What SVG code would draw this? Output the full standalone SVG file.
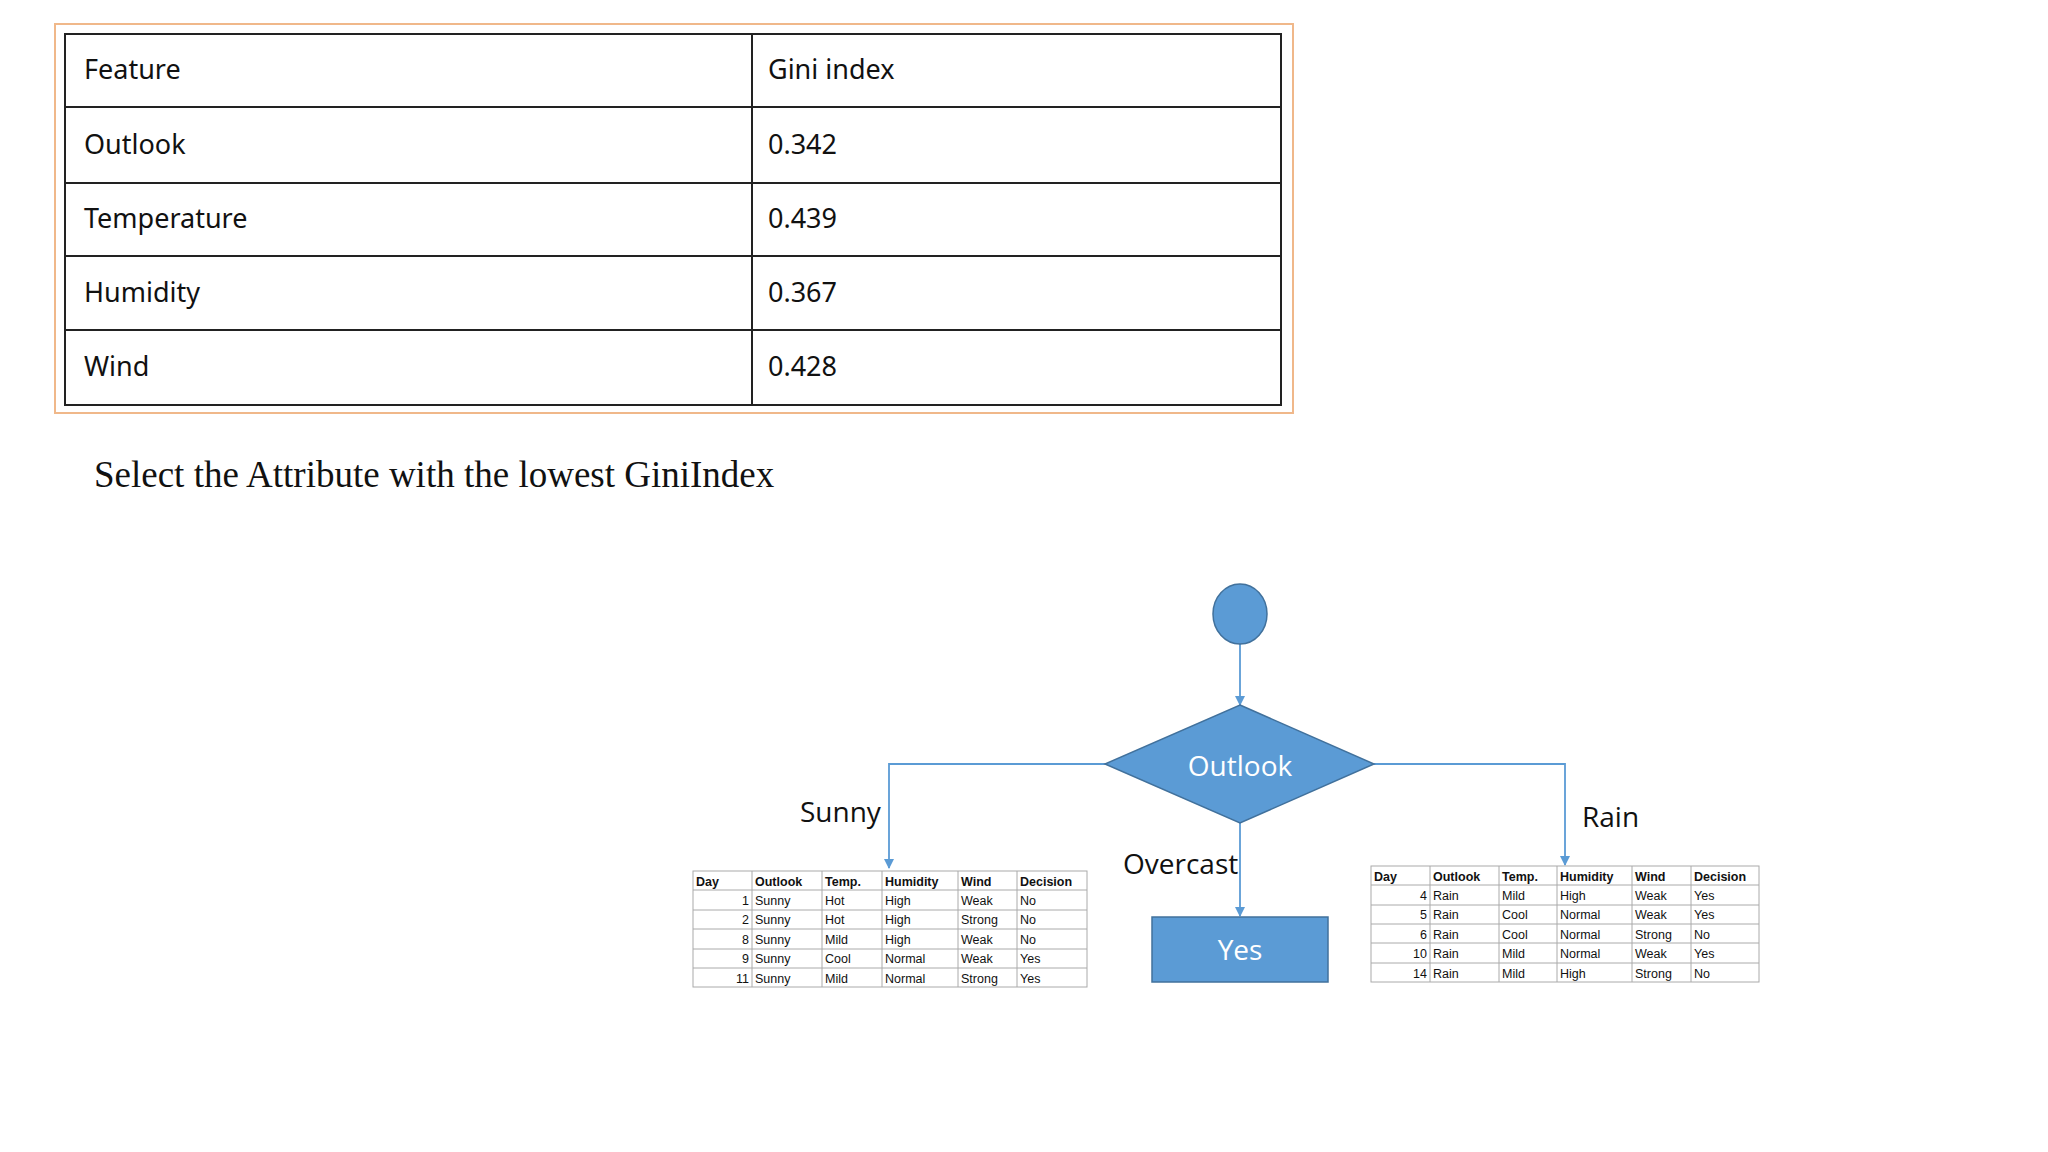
<svg xmlns="http://www.w3.org/2000/svg" width="2048" height="1152" viewBox="0 0 2048 1152">
<style>
.t{font-family:"Noto Sans","Liberation Sans",sans-serif;font-size:27px;fill:#111}
.g{stroke:#222;stroke-width:2;fill:none}
.c{stroke:#5b9bd5;stroke-width:1.8;fill:none}
.lb{font-family:"Open Sans","Liberation Sans",sans-serif;font-size:28px;fill:#111}
.w{font-family:"Open Sans","Liberation Sans",sans-serif;font-size:28px;fill:#fff;text-anchor:middle}
.s{font-family:"Liberation Sans",sans-serif;font-size:12.5px;fill:#111}
.sb{font-family:"Liberation Sans",sans-serif;font-size:12.5px;font-weight:bold;fill:#111}
.sg{stroke:#aaa;stroke-width:1;fill:none}
</style>
<defs><marker id="a" markerWidth="10" markerHeight="10" refX="5" refY="8" orient="auto" markerUnits="userSpaceOnUse"><path d="M0,0 L10,0 L5,9 Z" fill="#5b9bd5" transform="rotate(-90 5 5)"/></marker>
<marker id="d" markerWidth="10" markerHeight="10" refX="9" refY="5" orient="auto" markerUnits="userSpaceOnUse"><path d="M0,0 L10,5 L0,10 Z" fill="#5b9bd5"/></marker></defs>
<g id="gini-table">
<rect x="55" y="24" width="1238" height="389" fill="#fff" stroke="#f0b88a" stroke-width="2"/>
<rect x="65" y="34" width="1216" height="371" class="g"/>
<path class="g" d="M752,34V405M65,107H1281M65,183H1281M65,256H1281M65,330H1281"/>
<text class="t" x="84" y="79">Feature</text><text class="t" x="768" y="79">Gini index</text>
<text class="t" x="84" y="154">Outlook</text><text class="t" x="768" y="154">0.342</text>
<text class="t" x="84" y="228">Temperature</text><text class="t" x="768" y="228">0.439</text>
<text class="t" x="84" y="302">Humidity</text><text class="t" x="768" y="302">0.367</text>
<text class="t" x="84" y="376">Wind</text><text class="t" x="768" y="376">0.428</text>
</g>
<text x="94" y="487" font-family="Liberation Serif,serif" font-size="37" fill="#111">Select the Attribute with the lowest GiniIndex</text>
<g id="connectors">
<path class="c" d="M1240,644V705" marker-end="url(#d)"/>
<path class="c" d="M1105,764H889V868" marker-end="url(#d)"/>
<path class="c" d="M1374,764H1565V865" marker-end="url(#d)"/>
<path class="c" d="M1240,823V916" marker-end="url(#d)"/>
</g>
<g id="root"><ellipse cx="1240" cy="614" rx="27" ry="30" fill="#5b9bd5" stroke="#41719c" stroke-width="1.5"/></g>
<g id="outlook"><polygon points="1240,705 1374,764 1240,823 1105,764" fill="#5b9bd5" stroke="#41719c" stroke-width="1.5"/><text class="w" x="1240" y="776">Outlook</text></g>
<g id="yes"><rect x="1152" y="917" width="176" height="65" fill="#5b9bd5" stroke="#41719c" stroke-width="1.5"/><text class="w" x="1240" y="960">Yes</text></g>
<text class="lb" x="800" y="822">Sunny</text>
<text class="lb" x="1123" y="874">Overcast</text>
<text class="lb" x="1582" y="827">Rain</text>
<g id="sunny-table">
<rect x="693" y="871" width="394" height="116" fill="#fff" class="sg"/>
<path class="sg" d="M752,871V987M822,871V987M882,871V987M958,871V987M1017,871V987M693,890H1087M693,910H1087M693,929H1087M693,949H1087M693,968H1087"/>
<g class="sb"><text x="696" y="886">Day</text><text x="755" y="886">Outlook</text><text x="825" y="886">Temp.</text><text x="885" y="886">Humidity</text><text x="961" y="886">Wind</text><text x="1020" y="886">Decision</text></g>
<g class="s"><text x="749" y="905" text-anchor="end">1</text><text x="755" y="905">Sunny</text><text x="825" y="905">Hot</text><text x="885" y="905">High</text><text x="961" y="905">Weak</text><text x="1020" y="905">No</text>
<text x="749" y="924" text-anchor="end">2</text><text x="755" y="924">Sunny</text><text x="825" y="924">Hot</text><text x="885" y="924">High</text><text x="961" y="924">Strong</text><text x="1020" y="924">No</text>
<text x="749" y="944" text-anchor="end">8</text><text x="755" y="944">Sunny</text><text x="825" y="944">Mild</text><text x="885" y="944">High</text><text x="961" y="944">Weak</text><text x="1020" y="944">No</text>
<text x="749" y="963" text-anchor="end">9</text><text x="755" y="963">Sunny</text><text x="825" y="963">Cool</text><text x="885" y="963">Normal</text><text x="961" y="963">Weak</text><text x="1020" y="963">Yes</text>
<text x="749" y="983" text-anchor="end">11</text><text x="755" y="983">Sunny</text><text x="825" y="983">Mild</text><text x="885" y="983">Normal</text><text x="961" y="983">Strong</text><text x="1020" y="983">Yes</text></g>
</g>
<g id="rain-table">
<rect x="1371" y="866" width="388" height="116" fill="#fff" class="sg"/>
<path class="sg" d="M1430,866V982M1499,866V982M1557,866V982M1632,866V982M1691,866V982M1371,885H1759M1371,905H1759M1371,924H1759M1371,943H1759M1371,963H1759"/>
<g class="sb"><text x="1374" y="881">Day</text><text x="1433" y="881">Outlook</text><text x="1502" y="881">Temp.</text><text x="1560" y="881">Humidity</text><text x="1635" y="881">Wind</text><text x="1694" y="881">Decision</text></g>
<g class="s"><text x="1427" y="900" text-anchor="end">4</text><text x="1433" y="900">Rain</text><text x="1502" y="900">Mild</text><text x="1560" y="900">High</text><text x="1635" y="900">Weak</text><text x="1694" y="900">Yes</text>
<text x="1427" y="919" text-anchor="end">5</text><text x="1433" y="919">Rain</text><text x="1502" y="919">Cool</text><text x="1560" y="919">Normal</text><text x="1635" y="919">Weak</text><text x="1694" y="919">Yes</text>
<text x="1427" y="939" text-anchor="end">6</text><text x="1433" y="939">Rain</text><text x="1502" y="939">Cool</text><text x="1560" y="939">Normal</text><text x="1635" y="939">Strong</text><text x="1694" y="939">No</text>
<text x="1427" y="958" text-anchor="end">10</text><text x="1433" y="958">Rain</text><text x="1502" y="958">Mild</text><text x="1560" y="958">Normal</text><text x="1635" y="958">Weak</text><text x="1694" y="958">Yes</text>
<text x="1427" y="978" text-anchor="end">14</text><text x="1433" y="978">Rain</text><text x="1502" y="978">Mild</text><text x="1560" y="978">High</text><text x="1635" y="978">Strong</text><text x="1694" y="978">No</text></g>
</g>
</svg>
